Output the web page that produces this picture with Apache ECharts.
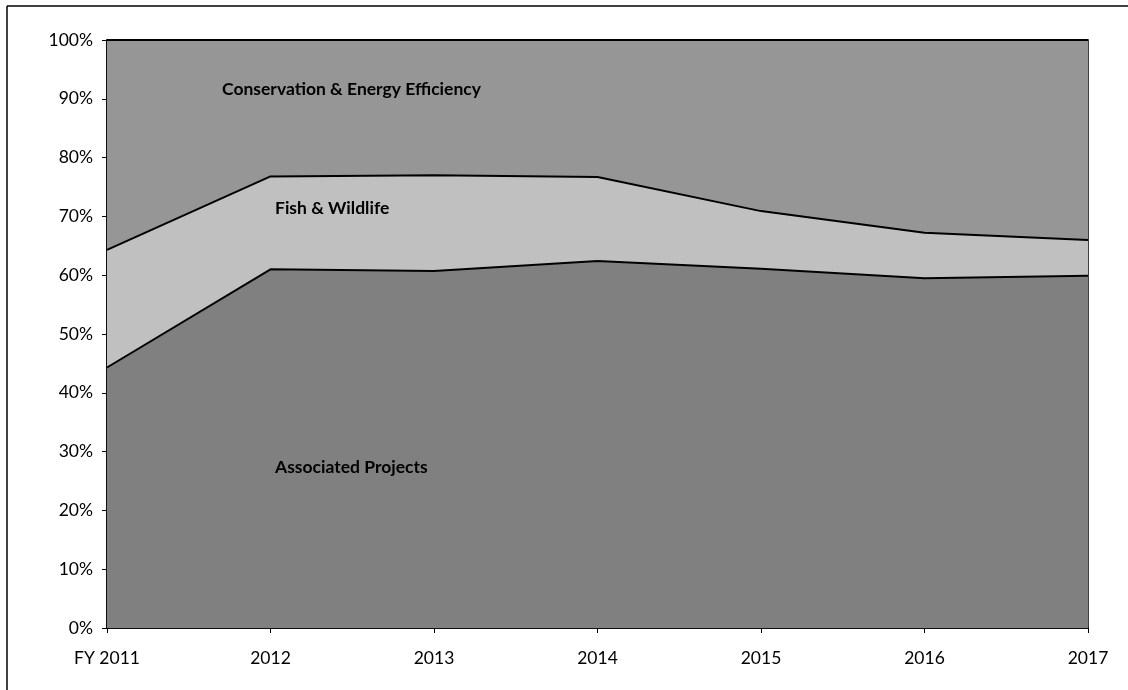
<!DOCTYPE html>
<html>
<head>
<meta charset="utf-8">
<script src="https://cdn.jsdelivr.net/npm/echarts@6/dist/echarts.min.js"></script>
<style>
  html, body { margin: 0; padding: 0; background: #fff; }
  #chart { width: 1128px; height: 690px; }
</style>
</head>
<body>
<div id="chart"></div>
<script>
// Share of funding by category, fiscal years 2011–2017 (percent of total)
const years = ['FY 2011', '2012', '2013', '2014', '2015', '2016', '2017'];
const associatedProjects = [44.3, 61.0, 60.7, 62.4, 61.1, 59.5, 59.9];
const fishWildlife = [20.0, 15.8, 16.3, 14.3, 9.8, 7.7, 6.1];
const conservationEnergy = [35.7, 23.2, 23.0, 23.3, 29.1, 32.8, 34.0];
const yTicks = [0, 10, 20, 30, 40, 50, 60, 70, 80, 90, 100];

const chart = echarts.init(document.getElementById('chart'));
const fontFamily = 'Lato, "DejaVu Sans", sans-serif';

function areaSeries(name, data, color) {
  return {
    name: name,
    type: 'line',
    stack: 'total',
    data: data,
    symbol: 'none',
    smooth: false,
    lineStyle: { color: '#000', width: 2 },
    areaStyle: { color: color, opacity: 1 },
    itemStyle: { color: color },
    emphasis: { disabled: true },
    z: 2
  };
}

chart.setOption({
  animation: false,
  backgroundColor: '#fff',
  grid: {
    left: 107, right: 40, top: 40, bottom: 62,
    show: true, borderColor: '#000', borderWidth: 1.5, backgroundColor: 'transparent'
  },
  xAxis: {
    type: 'category',
    data: years,
    boundaryGap: false,
    axisLine: { lineStyle: { color: '#000', width: 1.5 } },
    axisTick: { show: true, length: 5, lineStyle: { color: '#000' } },
    axisLabel: { color: '#000', fontSize: 17.5, fontFamily: fontFamily, margin: 21 },
    splitLine: { show: false }
  },
  yAxis: {
    type: 'value',
    min: 0, max: 100, interval: 10,
    axisLine: { show: true, lineStyle: { color: '#000', width: 1.5 } },
    axisTick: { show: true, length: 5, lineStyle: { color: '#000' } },
    axisLabel: {
      color: '#000', fontSize: 17.5, fontFamily: fontFamily, margin: 14,
      formatter: v => (yTicks.includes(v) ? v + '%' : '')
    },
    splitLine: { show: false }
  },
  series: [
    areaSeries('Associated Projects', associatedProjects, '#808080'),
    areaSeries('Fish & Wildlife', fishWildlife, '#c0c0c0'),
    areaSeries('Conservation & Energy Efficiency', conservationEnergy, '#969696')
  ],
  graphic: [
    { type: 'line', shape: { x1: 7, y1: 6, x2: 1128, y2: 6 }, style: { stroke: '#000', lineWidth: 1.5 }, silent: true },
    { type: 'line', shape: { x1: 7, y1: 6, x2: 7, y2: 690 }, style: { stroke: '#000', lineWidth: 1.5 }, silent: true },
    { type: 'text', x: 222, y: 89, z: 10,
      style: { text: 'Conservation & Energy Efficiency', font: 'bold 17.5px ' + fontFamily, fill: '#000', verticalAlign: 'middle' } },
    { type: 'text', x: 275, y: 208, z: 10,
      style: { text: 'Fish & Wildlife', font: 'bold 17.5px ' + fontFamily, fill: '#000', verticalAlign: 'middle' } },
    { type: 'text', x: 275, y: 467, z: 10,
      style: { text: 'Associated Projects', font: 'bold 17.5px ' + fontFamily, fill: '#000', verticalAlign: 'middle' } }
  ]
});
</script>
</body>
</html>
